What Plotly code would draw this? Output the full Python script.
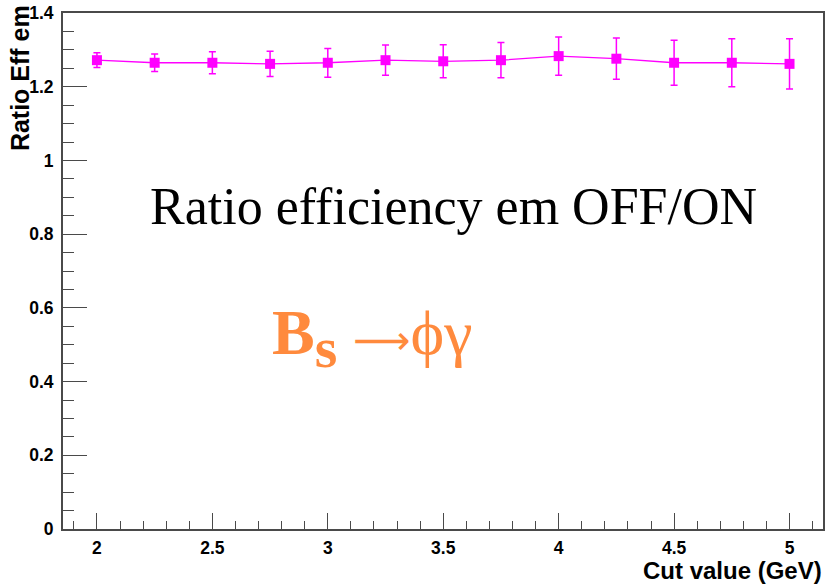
import plotly.graph_objects as go

# Data
cut_values = [2.0, 2.25, 2.5, 2.75, 3.0, 3.25, 3.5, 3.75, 4.0, 4.25, 4.5, 4.75, 5.0]
ratio_eff = [1.272, 1.265, 1.265, 1.262, 1.265, 1.272, 1.269, 1.272, 1.283, 1.276, 1.265, 1.265, 1.262]
ratio_err = [0.020, 0.024, 0.030, 0.034, 0.039, 0.041, 0.045, 0.048, 0.052, 0.056, 0.061, 0.065, 0.068]

x_tick_vals = [2, 2.5, 3, 3.5, 4, 4.5, 5]
x_tick_text = ["2", "2.5", "3", "3.5", "4", "4.5", "5"]
y_tick_vals = [0, 0.2, 0.4, 0.6, 0.8, 1.0, 1.2, 1.4]
y_tick_text = ["0", "0.2", "0.4", "0.6", "0.8", "1", "1.2", "1.4"]

x_title = "Cut value (GeV)"
y_title = "Ratio Eff em"
main_text = "Ratio efficiency em OFF/ON"
decay_text = ("<b>B</b><sub><b><span style='font-size:58px'>s</span></b></sub> "
              "<span style='font-family:DejaVu Sans;font-size:40px'>\u27f6</span>"
              "\u03d5\u03b3")

W, H = 827, 584
L, R, T, B = 63, 2, 13, 55
pw, ph = W - L - R, H - T - B

def px(xp):
    return (xp - L) / pw

def py(yp):
    return (H - B - yp) / ph

MAG = "#ff00ff"
AX = "#4a4a4a"

fig = go.Figure()
fig.add_trace(go.Scatter(
    x=cut_values, y=ratio_eff,
    mode="lines+markers",
    line=dict(color=MAG, width=1.3),
    marker=dict(symbol="square", size=10, color=MAG),
    error_y=dict(type="data", array=ratio_err, color=MAG, thickness=1.5, width=3.5),
    showlegend=False,
))

tickfont = dict(family="Liberation Sans", size=17.5, color="black", weight="bold")

fig.update_layout(
    width=W, height=H,
    margin=dict(l=L, r=R, t=T, b=B, pad=0),
    paper_bgcolor="white", plot_bgcolor="white",
    xaxis=dict(
        range=[1.853, 5.145], showgrid=False, zeroline=False,
        showline=True, linecolor=AX, linewidth=2, mirror=True,
        ticks="inside", ticklen=16, tickwidth=1.3, tickcolor=AX,
        tickmode="array", tickvals=x_tick_vals, ticktext=x_tick_text,
        minor=dict(ticks="inside", ticklen=8, tickwidth=1.3, tickcolor=AX, dtick=0.1, tick0=0),
        tickfont=tickfont, ticklabelstandoff=2,
    ),
    yaxis=dict(
        range=[0, 1.4], showgrid=False, zeroline=False,
        showline=True, linecolor=AX, linewidth=2, mirror=True,
        ticks="inside", ticklen=24, tickwidth=1.3, tickcolor=AX,
        tickmode="array", tickvals=y_tick_vals, ticktext=y_tick_text,
        minor=dict(ticks="inside", ticklen=11, tickwidth=1.3, tickcolor=AX, dtick=0.05, tick0=0),
        tickfont=tickfont, ticklabelstandoff=4,
    ),
    annotations=[
        dict(text=y_title, xref="paper", yref="paper", x=px(20), y=py(3),
             xanchor="center", yanchor="top", textangle=-90, showarrow=False,
             font=dict(family="Liberation Sans", size=25, color="black", weight="bold")),
        dict(text=x_title, xref="paper", yref="paper", x=px(826), y=py(555),
             xanchor="right", yanchor="top", showarrow=False,
             font=dict(family="Liberation Sans", size=24, color="black", weight="bold")),
        dict(text=main_text, xref="paper", yref="paper", x=px(455), y=py(206),
             xanchor="center", yanchor="middle", showarrow=False,
             font=dict(family="Liberation Serif", size=52, color="black")),
        dict(text=decay_text, xref="paper", yref="paper", x=px(271), y=py(338),
             xanchor="left", yanchor="middle", showarrow=False,
             font=dict(family="Liberation Serif", size=64, color="#ff8a3d")),
    ],
)

fig.write_html("out.html")
